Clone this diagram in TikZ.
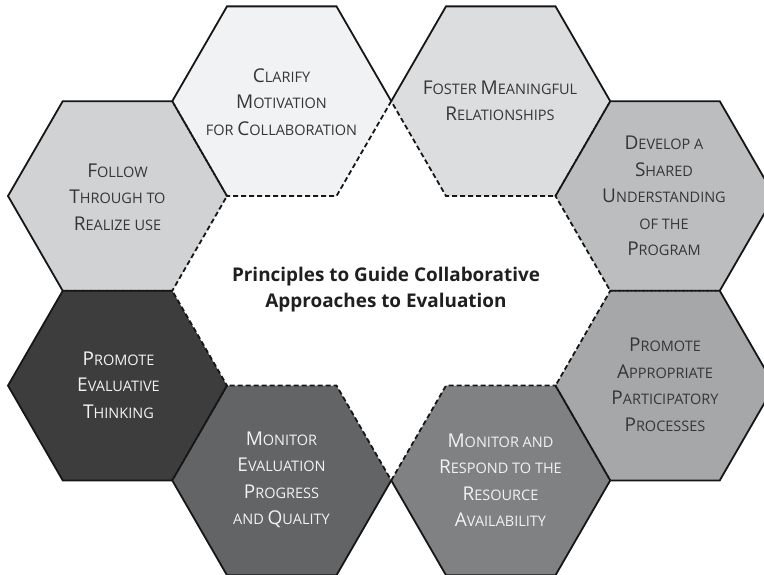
\documentclass[tikz,border=0pt]{standalone}
\usepackage{fontspec}
\setmainfont{Open Sans}
\usetikzlibrary{calc}
\definecolor{cA}{HTML}{F1F2F3}
\definecolor{cB}{HTML}{DCDDDE}
\definecolor{cC}{HTML}{BCBDBF}
\definecolor{cD}{HTML}{D1D2D4}
\definecolor{cE}{HTML}{3D3D3E}
\definecolor{cF}{HTML}{A6A7A9}
\definecolor{cG}{HTML}{636466}
\definecolor{cH}{HTML}{808183}
\definecolor{txtdark}{HTML}{363636}
\definecolor{txtlight}{HTML}{F2F2F2}
\definecolor{edgecol}{HTML}{161616}
\newcommand\Cap[1]{{\fontsize{19}{26.5}\selectfont #1}}
\newcommand\defhex[3]{%
  \coordinate (#1) at (#2,#3);
  \foreach \k in {0,...,5}{\coordinate (#1-\k) at ($(#1)+(\k*60:109.5)$);}}
\tikzset{
  solidedge/.style={draw=edgecol, line width=1.8pt, line join=miter},
  dashedge/.style={draw=edgecol, line width=1.8pt, dash pattern=on 5pt off 3pt},
  hexlabel/.style={align=center, font=\fontsize{14.5}{26.5}\selectfont, text=txtdark, inner sep=0pt},
  hexlabellight/.style={hexlabel, text=txtlight},
  titlelabel/.style={align=center, font=\fontsize{18.9}{26}\selectfont\bfseries, text=black!88, inner sep=0pt}
}
\begin{document}
\begin{tikzpicture}[x=1pt,y=-1pt]
\useasboundingbox (0,0) rectangle (764,575);
\clip (0,0) rectangle (764,575);
% centres of the honeycomb ring
\defhex{h4}{117.5}{196}
\defhex{h1}{281.75}{101.2}
\defhex{h2}{500.75}{101.2}
\defhex{h3}{665}{196}
\defhex{h6}{665}{385.6}
\defhex{h8}{500.75}{480.4}
\defhex{h7}{281.75}{480.4}
\defhex{h5}{117.5}{385.6}
% fills
\foreach \h/\c in {h1/cA,h2/cB,h3/cC,h4/cD,h5/cE,h6/cF,h7/cG,h8/cH}{
  \fill[\c] (\h-0)--(\h-1)--(\h-2)--(\h-3)--(\h-4)--(\h-5)--cycle;}
% solid outer edges
\draw[solidedge] (h1-3)--(h1-4)--(h1-5)--(h1-0);
\draw[solidedge] (h2-3)--(h2-4)--(h2-5)--(h2-0);
\draw[solidedge] (h3-4)--(h3-5)--(h3-0)--(h3-1);
\draw[solidedge] (h4-2)--(h4-3)--(h4-4)--(h4-5);
\draw[solidedge] (h5-1)--(h5-2)--(h5-3)--(h5-4);
\draw[solidedge] (h6-5)--(h6-0)--(h6-1)--(h6-2);
\draw[solidedge] (h7-0)--(h7-1)--(h7-2)--(h7-3);
\draw[solidedge] (h8-0)--(h8-1)--(h8-2)--(h8-3);
% dashed inner edges
\draw[dashedge] (h1-0)--(h1-1)--(h1-2)--(h1-3);
\draw[dashedge] (h2-0)--(h2-1)--(h2-2)--(h2-3);
\draw[dashedge] (h3-1)--(h3-2)--(h3-3)--(h3-4);
\draw[dashedge] (h4-5)--(h4-0)--(h4-1)--(h4-2);
\draw[dashedge] (h5-4)--(h5-5)--(h5-0)--(h5-1);
\draw[dashedge] (h6-2)--(h6-3)--(h6-4)--(h6-5);
\draw[dashedge] (h7-3)--(h7-4)--(h7-5)--(h7-0);
\draw[dashedge] (h8-3)--(h8-4)--(h8-5)--(h8-0);
% labels
\node[hexlabel] (t1) at (281.5,102) {\Cap{C}LARIFY\\\Cap{M}OTIVATION\\FOR \Cap{C}OLLABORATION};
\node[hexlabel] (t2) at (500,101) {\Cap{F}OSTER \Cap{M}EANINGFUL\\\Cap{R}ELATIONSHIPS};
\node[hexlabel] (t3) at (664,196) {\Cap{D}EVELOP A\\\Cap{S}HARED\\\Cap{U}NDERSTANDING\\OF THE\\\Cap{P}ROGRAM};
\node[hexlabel] (t4) at (117.5,197) {\Cap{F}OLLOW\\\Cap{T}HROUGH TO\\\Cap{R}EALIZE USE};
\node[hexlabellight] (t5) at (118.5,385) {\Cap{P}ROMOTE\\\Cap{E}VALUATIVE\\\Cap{T}HINKING};
\node[hexlabel] (t6) at (665,385) {\Cap{P}ROMOTE\\\Cap{A}PPROPRIATE\\\Cap{P}ARTICIPATORY\\\Cap{P}ROCESSES};
\node[hexlabellight] (t7) at (281.5,480) {\Cap{M}ONITOR\\\Cap{E}VALUATION\\\Cap{P}ROGRESS\\AND \Cap{Q}UALITY};
\node[hexlabellight] (t8) at (500.5,480) {\Cap{M}ONITOR AND\\\Cap{R}ESPOND TO THE\\\Cap{R}ESOURCE\\\Cap{A}VAILABILITY};
\node[titlelabel] (title) at (386,290) {Principles to Guide Collaborative\\Approaches to Evaluation};
\end{tikzpicture}
\end{document}
